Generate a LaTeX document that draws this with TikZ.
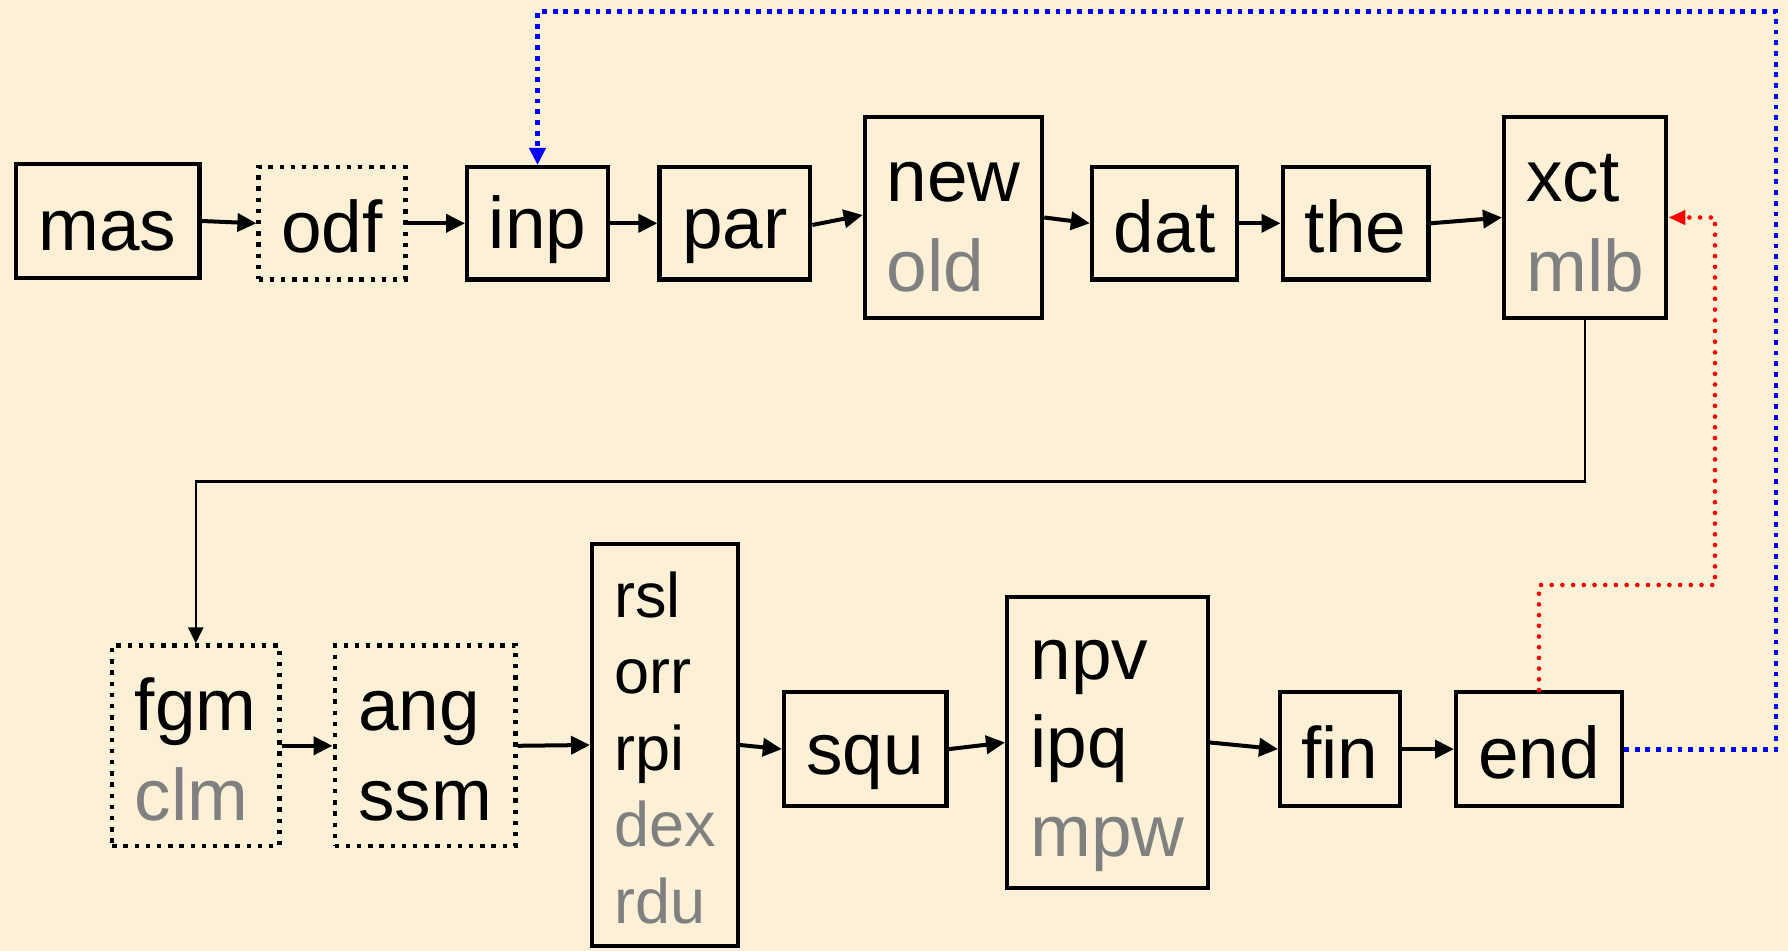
\documentclass[tikz,border=0pt]{standalone}
\usepackage{fontspec}
\setmainfont{Liberation Sans}
\usetikzlibrary{arrows.meta}
\definecolor{bgc}{RGB}{252,241,214}
\newcommand\ST{\rule[-0.1em]{0pt}{1.0em}}
\begin{document}
\begin{tikzpicture}[x=0.5pt,y=-0.5pt,
  box/.style 2 args={draw=black, line width=2.15pt, inner sep=0pt,
    minimum width=#1*0.5pt, minimum height=#2*0.5pt, align=left,
    font=\fontsize{36.5}{45}\selectfont},
  dbox/.style 2 args={box={#1}{#2}, dash pattern=on 2.2pt off 3.4pt},
  arr/.style={draw=black, line width=2pt, -{Triangle[length=9.5pt,width=9pt]}},
  thinarr/.style={draw=black, line width=1.25pt, -{Triangle[length=8pt,width=7.5pt]}},
  bluel/.style={draw=blue, line width=2.4pt, dash pattern=on 2.4pt off 2.95pt,
    -{Triangle[length=8.5pt,width=8pt]}},
  redl/.style={draw=red, line width=2.3pt, line cap=round, dash pattern=on 0pt off 5.35pt,
    -{Triangle[length=8.5pt,width=7pt]}}
]
\fill[bgc] (0,0) rectangle (1788,951);
\useasboundingbox (0,0) rectangle (1788,951);

% top row
\node[box={183.7}{114}] (mas) at (107.5,221) {\ST mas};
\node[dbox={146.9}{112.4}] (odf) at (332,223.3) {\ST odf};
\node[box={140.7}{112.4}] (inp) at (537.5,223.3) {\ST inp};
\node[box={150.7}{112.4}] (par) at (734.9,223.3) {\ST par};
\node[box={177.3}{200.7}] (new) at (953.5,217.5) {\ST new\\\ST\textcolor{gray}{old}};
\node[box={145.3}{112.4}] (dat) at (1164.6,223.3) {\ST dat};
\node[box={145.7}{112.4}] (the) at (1355.6,223.3) {\ST the};
\node[box={162.2}{200.7}] (xct) at (1585.2,217.5) {\ST xct\\\ST\textcolor{gray}{mlb}};

% bottom row
\node[dbox={167.2}{200.7}] (fgm) at (195.75,745.8) {\ST fgm\\\ST\textcolor{gray}{clm}};
\node[dbox={180.7}{200.7}] (ang) at (425,745.8) {\ST ang\\\ST ssm};
\node[box={145.7}{402.3}, font=\fontsize{31.5}{38.3}\selectfont] (rsl) at (665,745)
  {\ST rsl\\\ST orr\\\ST rpi\\\ST\textcolor{gray}{dex}\\\ST\textcolor{gray}{rdu}};
\node[box={162.5}{114}] (squ) at (865.2,749.15) {\ST squ};
\node[box={200.7}{290.7}, font=\fontsize{36.5}{44.2}\selectfont] (npv) at (1107.5,742.5)
  {\ST npv\\\ST ipq\\\ST\textcolor{gray}{mpw}};
\node[box={119.7}{114}] (fin) at (1340,749.15) {\ST fin};
\node[box={165.7}{114}] (endn) at (1539,749.15) {\ST end};

% turning points
\coordinate (turn) at (195.75,481.7);
\coordinate (bR) at (1776,11.7);
\coordinate (rA) at (1715,585);

% connectors
\draw[arr] (mas.east) -- (odf.west);
\draw[arr] (odf.east) -- (inp.west);
\draw[arr] (inp.east) -- (par.west);
\draw[arr] ([yshift=-0.85pt]par.east) -- ([yshift=1.25pt]new.west);
\draw[arr] (new.east) -- (dat.west);
\draw[arr] (dat.east) -- (the.west);
\draw[arr] (the.east) -- (xct.west);
\draw[thinarr] (xct.south) |- (turn) -- (fgm.north);
\draw[arr] (fgm.east) -- (ang.west);
\draw[arr] (ang.east) -- (rsl.west);
\draw[arr] (rsl.east) -- (squ.west);
\draw[arr] (squ.east) -- (npv.west);
\draw[arr] (npv.east) -- (fin.west);
\draw[arr] (fin.east) -- (endn.west);
\draw[bluel] (endn.east) -| (bR) -| (inp.north);
\draw[redl] (endn.north) |- (rA) |- (xct.east);
\end{tikzpicture}
\end{document}
